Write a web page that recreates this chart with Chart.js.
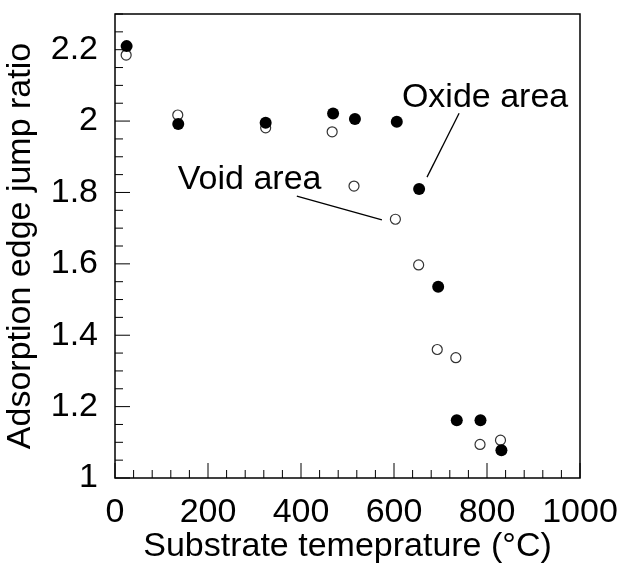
<!DOCTYPE html>
<html>
<head>
    <meta charset="utf-8" />
    <title>Adsorption edge jump ratio</title>
    <script src="https://cdn.jsdelivr.net/npm/chart.js@4.4.0/dist/chart.umd.min.js"></script>
    <style type="text/css">
        html, body { margin: 0; padding: 0; background: #fff; }
        #box { width: 623px; height: 569px; }
    </style>
</head>
<body>
    <div id="box"><canvas id="chartJump"></canvas></div>

    <script>
        // data
        var oxideTemp  = [25, 136, 324, 469, 516, 606, 654, 695, 735, 786, 831];
        var oxideRatio = [2.21, 1.992, 1.995, 2.021, 2.006, 1.998, 1.81, 1.536, 1.162, 1.162, 1.078];

        var voidTemp  = [24, 135, 324, 467, 514, 603, 653, 693, 733, 785, 829];
        var voidRatio = [2.185, 2.017, 1.981, 1.97, 1.818, 1.725, 1.597, 1.36, 1.337, 1.094, 1.106];

        var xTicks = [0, 200, 400, 600, 800, 1000];
        var yTicks = [1, 1.2, 1.4, 1.6, 1.8, 2, 2.2];

        // labels with leader lines, in data units: [textX, textY, lineX1, lineY1, lineX2, lineY2]
        var labelNames = ['Oxide area', 'Void area'];
        var labelPos = [
            [617, 2.039, 740, 2.022, 671, 1.843],
            [135, 1.81, 391, 1.79, 574, 1.723]
        ];

        var FONT = "'Liberation Sans', Arial, Helvetica, sans-serif";

        function toPoints(xs, ys) {
            var pts = [];
            for (var i = 0; i < xs.length; i++) {
                pts.push({ x: xs[i], y: ys[i] });
            }
            return pts;
        }

        // frame, inward ticks and the two labels
        var framePlugin = {
            id: 'frame',
            afterDatasetsDraw: function (chart) {
                var ctx = chart.ctx;
                var a = chart.chartArea;
                var xs = chart.scales.x;
                var ys = chart.scales.y;
                ctx.save();
                ctx.strokeStyle = '#000';
                ctx.lineWidth = 1.5;
                ctx.strokeRect(a.left, a.top, a.right - a.left, a.bottom - a.top);

                ctx.lineWidth = 1;
                ctx.beginPath();
                for (var t = 0; t <= 1000; t += 40) {
                    var px = xs.getPixelForValue(t);
                    var len = (t % 200 === 0) ? 15 : 8;
                    ctx.moveTo(px, a.bottom);
                    ctx.lineTo(px, a.bottom - len);
                }
                for (var k = 0; k <= 26; k++) {
                    var v = 1 + k * 0.05;
                    var py = ys.getPixelForValue(v);
                    var ylen = (k % 4 === 0) ? 15 : 8;
                    ctx.moveTo(a.left, py);
                    ctx.lineTo(a.left + ylen, py);
                }
                ctx.stroke();

                ctx.fillStyle = '#000';
                ctx.font = '34px ' + FONT;
                ctx.textBaseline = 'alphabetic';
                ctx.textAlign = 'left';
                ctx.lineWidth = 1.3;
                for (var i = 0; i < labelNames.length; i++) {
                    var p = labelPos[i];
                    ctx.fillText(labelNames[i], xs.getPixelForValue(p[0]), ys.getPixelForValue(p[1]));
                    ctx.beginPath();
                    ctx.moveTo(xs.getPixelForValue(p[2]), ys.getPixelForValue(p[3]));
                    ctx.lineTo(xs.getPixelForValue(p[4]), ys.getPixelForValue(p[5]));
                    ctx.stroke();
                }
                ctx.restore();
            }
        };

        const ctx = document.getElementById('chartJump').getContext('2d');

        const myChart = new Chart(ctx, {
            type: 'scatter',
            data: {
                datasets: [{
                    label: 'Oxide area',
                    data: toPoints(oxideTemp, oxideRatio),
                    pointStyle: 'circle',
                    pointRadius: 6,
                    backgroundColor: '#000',
                    borderColor: '#000',
                    borderWidth: 0
                },
                {
                    label: 'Void area',
                    data: toPoints(voidTemp, voidRatio),
                    pointStyle: 'circle',
                    pointRadius: 5,
                    backgroundColor: '#fff',
                    borderColor: '#333',
                    borderWidth: 1.2
                }
                ]
            },
            options: {
                responsive: true,
                maintainAspectRatio: false,
                animation: false,
                layout: {
                    padding: { top: 14, right: 43, left: 0, bottom: 0 }
                },
                plugins: {
                    legend: { display: false },
                    tooltip: { enabled: false }
                },
                scales: {
                    x: {
                        type: 'linear',
                        min: 0,
                        max: 1000,
                        afterBuildTicks: function (scale) {
                            scale.ticks = xTicks.map(function (v) { return { value: v }; });
                        },
                        afterFit: function (scale) {
                            scale.height = 91;
                            scale.paddingLeft = 0;
                            scale.paddingRight = 0;
                        },
                        grid: { display: false, drawTicks: false },
                        border: { display: false },
                        ticks: {
                            padding: 14,
                            color: '#000',
                            maxRotation: 0,
                            autoSkip: false,
                            callback: function (value) { return String(value); },
                            font: { family: FONT, size: 34 }
                        },
                        title: {
                            display: true,
                            text: 'Substrate temeprature (°C)',
                            color: '#000',
                            font: { family: FONT, size: 34, lineHeight: 1.2 },
                            padding: { top: 0, bottom: 2 }
                        }
                    },
                    y: {
                        type: 'linear',
                        min: 1,
                        max: 2.3,
                        afterBuildTicks: function (scale) {
                            scale.ticks = yTicks.map(function (v) { return { value: v }; });
                        },
                        afterFit: function (scale) {
                            scale.width = 115;
                            scale.paddingTop = 0;
                            scale.paddingBottom = 0;
                        },
                        grid: { display: false, drawTicks: false },
                        border: { display: false },
                        ticks: {
                            padding: 17,
                            color: '#000',
                            autoSkip: false,
                            callback: function (value) { return String(value); },
                            font: { family: FONT, size: 34 }
                        },
                        title: {
                            display: true,
                            text: 'Adsorption edge jump ratio',
                            color: '#000',
                            font: { family: FONT, size: 34, lineHeight: 1.2 },
                            padding: { top: 0, bottom: 0 }
                        }
                    }
                }
            },
            plugins: [framePlugin]
        });
    </script>
</body>
</html>
